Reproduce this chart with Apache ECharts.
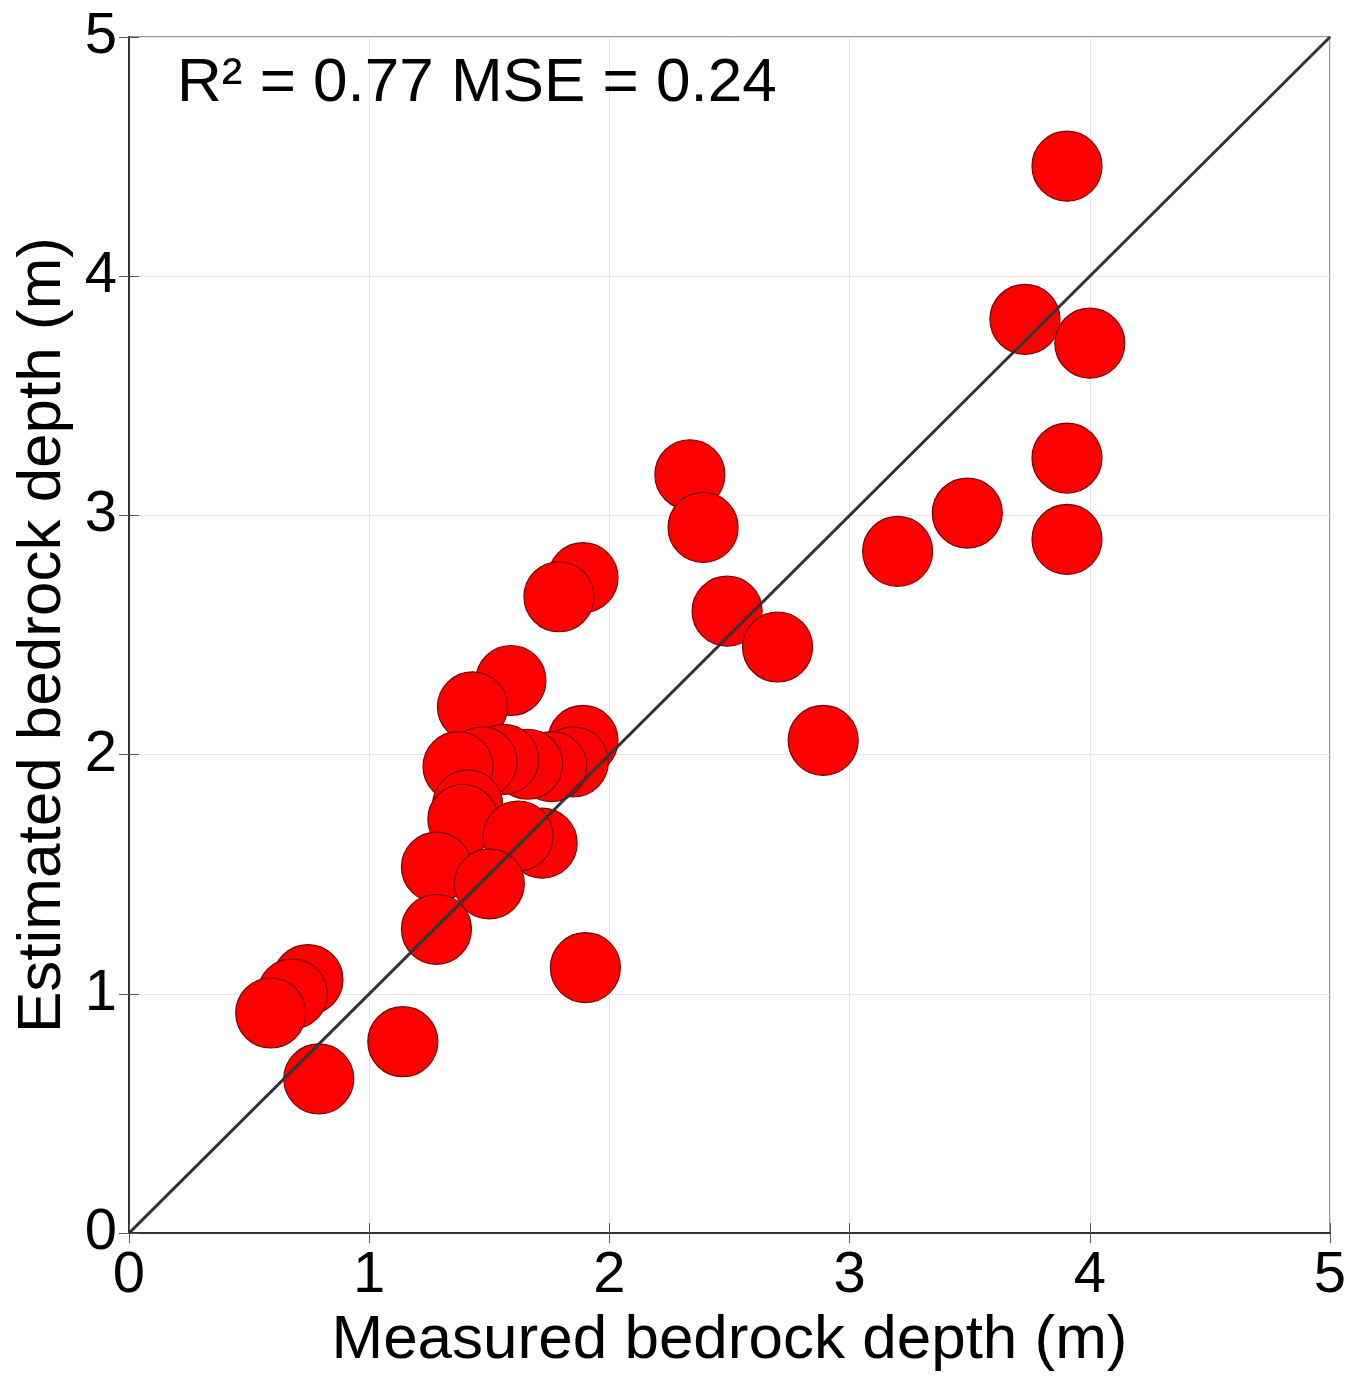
<!DOCTYPE html>
<html><head><meta charset="utf-8">
<script src="https://cdn.jsdelivr.net/npm/echarts@6/dist/echarts.min.js"></script>
<style>html,body{margin:0;padding:0;background:#fff}#c{width:1352px;height:1377px}</style>
</head><body><div id="c"></div>
<script>
const measured = [3.905,3.73,4.0,3.905,3.49,3.905,3.20,2.335,2.39,2.49,2.70,2.89,1.89,1.79,1.59,1.43,1.89,1.85,1.76,1.66,1.56,1.47,1.37,1.41,1.39,1.72,1.62,1.28,1.50,1.28,1.90,0.745,0.68,0.59,1.14,0.79];
const estimated = [4.46,3.82,3.72,3.24,3.01,2.90,2.85,3.17,2.95,2.60,2.45,2.06,2.74,2.66,2.31,2.20,2.06,1.97,1.95,1.96,1.98,1.97,1.95,1.79,1.73,1.63,1.66,1.53,1.46,1.27,1.11,1.06,1.00,0.92,0.80,0.645];
const oneToOne = [[0,0],[5,5]];
const tickLabels = ['0','1','2','3','4','5'];
const annotation = 'R² = 0.77 MSE = 0.24';
const xTitle = 'Measured bedrock depth (m)';
const yTitle = 'Estimated bedrock depth (m)';

const font = 'Liberation Sans, Arial, sans-serif';
const chart = echarts.init(document.getElementById('c'), null, {renderer:'canvas'});
const axisCommon = {
  type:'value', min:0, max:5, interval:1,
  axisLine:{show:true, onZero:false, lineStyle:{color:'#333', width:2}},
  axisTick:{show:true, inside:true, length:10, lineStyle:{color:'#555', width:1}},
  splitLine:{show:true, lineStyle:{color:'#e6e6e6', width:1}},
  axisLabel:{color:'#000', fontSize:58, fontFamily:font, formatter:(v)=>tickLabels[Math.round(v)]},
  nameLocation:'middle',
  nameTextStyle:{color:'#000', fontSize:62, fontFamily:font}
};
chart.setOption({
  animation:false,
  backgroundColor:'#fff',
  grid:{left:129, right:22, top:37, bottom:140, show:true, borderColor:'#999', borderWidth:2, backgroundColor:'transparent'},
  xAxis:[Object.assign({}, axisCommon, {position:'bottom', name:xTitle, nameGap:72, axisLabel:Object.assign({}, axisCommon.axisLabel, {margin:14})}),
         Object.assign({}, axisCommon, {position:'top', gridIndex:0, name:'', axisLabel:{show:false}, splitLine:{show:false}, axisLine:{show:false}})],
  yAxis:[Object.assign({}, axisCommon, {position:'left', name:yTitle, nameGap:55, axisLabel:Object.assign({}, axisCommon.axisLabel, {margin:12})}),
         Object.assign({}, axisCommon, {position:'right', name:'', axisLabel:{show:false}, splitLine:{show:false}, axisLine:{show:false}})],
  title:{text:annotation, left:172, top:48, textStyle:{fontSize:62, fontWeight:'normal', color:'#000', fontFamily:font}},
  series:[
    {type:'scatter', data:measured.map((m,i)=>[m, estimated[i]]), symbol:'circle', symbolSize:70,
     itemStyle:{color:'#ff0000', borderColor:'#7a0000', borderWidth:1.2, opacity:1}, z:2},
    {type:'line', data:oneToOne, symbol:'none', lineStyle:{color:'#333', width:3}, z:3}
  ]
});
</script></body></html>
